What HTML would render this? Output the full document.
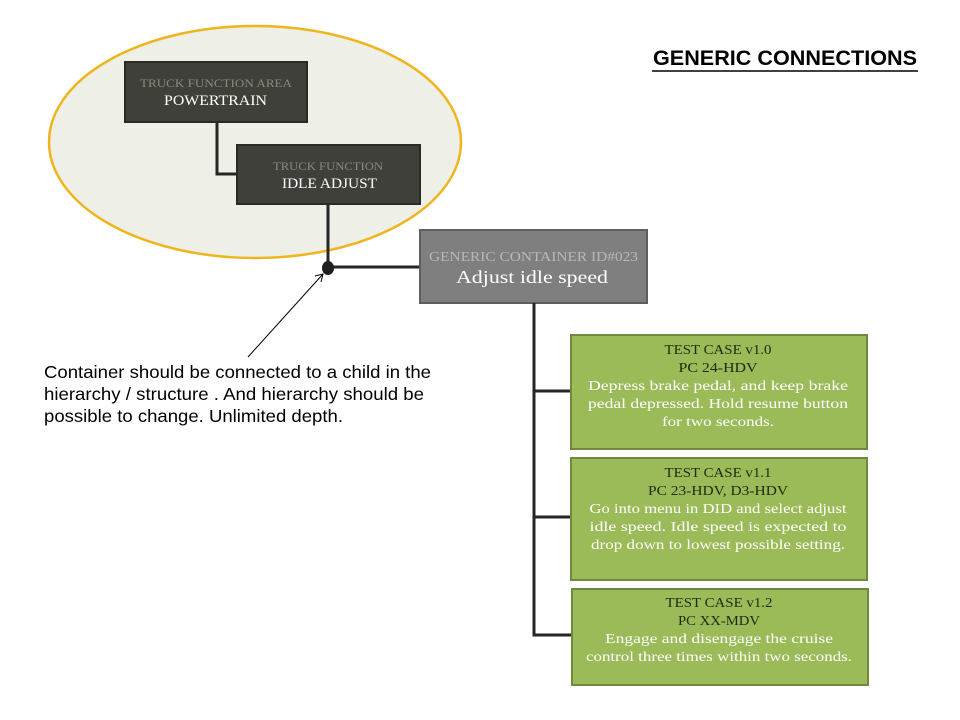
<!DOCTYPE html>
<html><head><meta charset="utf-8"><style>
html,body{margin:0;padding:0;background:#fff;width:960px;height:720px;overflow:hidden}
svg{display:block}
.s{font-family:"Liberation Serif",serif}
</style></head><body>
<svg width="960" height="720" viewBox="0 0 960 720" xmlns="http://www.w3.org/2000/svg">
<ellipse cx="255" cy="142" rx="206" ry="116" fill="#eeefe6" stroke="#f0b41c" stroke-width="2.5"/>
<polyline points="217,122 217,174 238,174" fill="none" stroke="#262626" stroke-width="3"/>
<rect x="125" y="62" width="182" height="60" fill="#3f4039" stroke="#2a2a26" stroke-width="2"/>
<text class="s" x="140" y="87" font-size="12" fill="#8a8a80" textLength="152" lengthAdjust="spacingAndGlyphs">TRUCK FUNCTION  AREA</text>
<text class="s" x="164" y="105" font-size="15" fill="#fff" textLength="103" lengthAdjust="spacingAndGlyphs">POWERTRAIN</text>
<rect x="237" y="145" width="183" height="59" fill="#3f4039" stroke="#2a2a26" stroke-width="2"/>
<text class="s" x="273" y="170" font-size="12" fill="#8a8a80" textLength="110" lengthAdjust="spacingAndGlyphs">TRUCK FUNCTION</text>
<text class="s" x="282" y="188" font-size="15" fill="#fff" textLength="95" lengthAdjust="spacingAndGlyphs">IDLE ADJUST</text>
<line x1="328" y1="204" x2="328" y2="268" stroke="#262626" stroke-width="3"/>
<line x1="328" y1="267" x2="421" y2="267" stroke="#262626" stroke-width="3"/>
<ellipse cx="328" cy="268" rx="6" ry="7" fill="#1e1e1e"/>
<line x1="248" y1="357" x2="323" y2="274" stroke="#000" stroke-width="1"/>
<polyline points="315,276 323,274 321,282" fill="none" stroke="#000" stroke-width="1"/>
<rect x="420" y="230" width="227" height="73" fill="#7f7f7f" stroke="#5e5e5e" stroke-width="2"/>
<text class="s" x="429" y="261" font-size="14" fill="#b8b8b8" textLength="209" lengthAdjust="spacingAndGlyphs">GENERIC CONTAINER ID#023</text>
<text class="s" x="456" y="283" font-size="18" fill="#fff" textLength="152" lengthAdjust="spacingAndGlyphs">Adjust idle speed</text>
<polyline points="534,303 534,635 572,635" fill="none" stroke="#262626" stroke-width="3"/>
<line x1="534" y1="391" x2="572" y2="391" stroke="#262626" stroke-width="3"/>
<line x1="534" y1="517" x2="572" y2="517" stroke="#262626" stroke-width="3"/>
<g class="s" text-anchor="middle" font-size="14" lengthAdjust="spacingAndGlyphs">
<rect x="571" y="335" width="296" height="114" fill="#9bbb59" stroke="#71893f" stroke-width="2"/>
<text x="718" y="354" fill="#1f2a10" textLength="107" lengthAdjust="spacingAndGlyphs">TEST CASE v1.0</text>
<text x="718" y="372" fill="#1f2a10" textLength="79" lengthAdjust="spacingAndGlyphs">PC 24-HDV</text>
<text x="718" y="390" fill="#fff" textLength="260" lengthAdjust="spacingAndGlyphs">Depress brake pedal, and keep brake</text>
<text x="718" y="408" fill="#fff" textLength="260" lengthAdjust="spacingAndGlyphs">pedal depressed. Hold resume button</text>
<text x="718" y="426" fill="#fff" textLength="112" lengthAdjust="spacingAndGlyphs">for two seconds.</text>
<rect x="571" y="458" width="296" height="122" fill="#9bbb59" stroke="#71893f" stroke-width="2"/>
<text x="718" y="477" fill="#1f2a10" textLength="107" lengthAdjust="spacingAndGlyphs">TEST CASE v1.1</text>
<text x="718" y="495" fill="#1f2a10" textLength="140" lengthAdjust="spacingAndGlyphs">PC 23-HDV, D3-HDV</text>
<text x="718" y="513" fill="#fff" textLength="257" lengthAdjust="spacingAndGlyphs">Go into menu in DID and select adjust</text>
<text x="718" y="531" fill="#fff" textLength="257" lengthAdjust="spacingAndGlyphs">idle speed.  Idle speed is expected to</text>
<text x="718" y="549" fill="#fff" textLength="254" lengthAdjust="spacingAndGlyphs">drop down to lowest possible setting.</text>
<rect x="572" y="589" width="296" height="96" fill="#9bbb59" stroke="#71893f" stroke-width="2"/>
<text x="719" y="607" fill="#1f2a10" textLength="107" lengthAdjust="spacingAndGlyphs">TEST CASE v1.2</text>
<text x="719" y="625" fill="#1f2a10" textLength="82" lengthAdjust="spacingAndGlyphs">PC XX-MDV</text>
<text x="719" y="643" fill="#fff" textLength="228" lengthAdjust="spacingAndGlyphs">Engage and disengage the cruise</text>
<text x="719" y="661" fill="#fff" textLength="266" lengthAdjust="spacingAndGlyphs">control three times within two seconds.</text>
</g>
<g font-family="'Liberation Sans',sans-serif" font-size="17.5" fill="#000">
<text x="44" y="378" textLength="387" lengthAdjust="spacingAndGlyphs">Container should be connected to a child in the</text>
<text x="44" y="400" textLength="380" lengthAdjust="spacingAndGlyphs">hierarchy / structure . And hierarchy should be</text>
<text x="44" y="422" textLength="299" lengthAdjust="spacingAndGlyphs">possible to change. Unlimited depth.</text>
</g>
<text x="653" y="65" font-family="'Liberation Sans',sans-serif" font-weight="bold" font-size="21" fill="#000" textLength="264" lengthAdjust="spacingAndGlyphs">GENERIC CONNECTIONS</text>
<line x1="652" y1="71" x2="918" y2="71" stroke="#000" stroke-width="1.5"/>
</svg>
</body></html>
